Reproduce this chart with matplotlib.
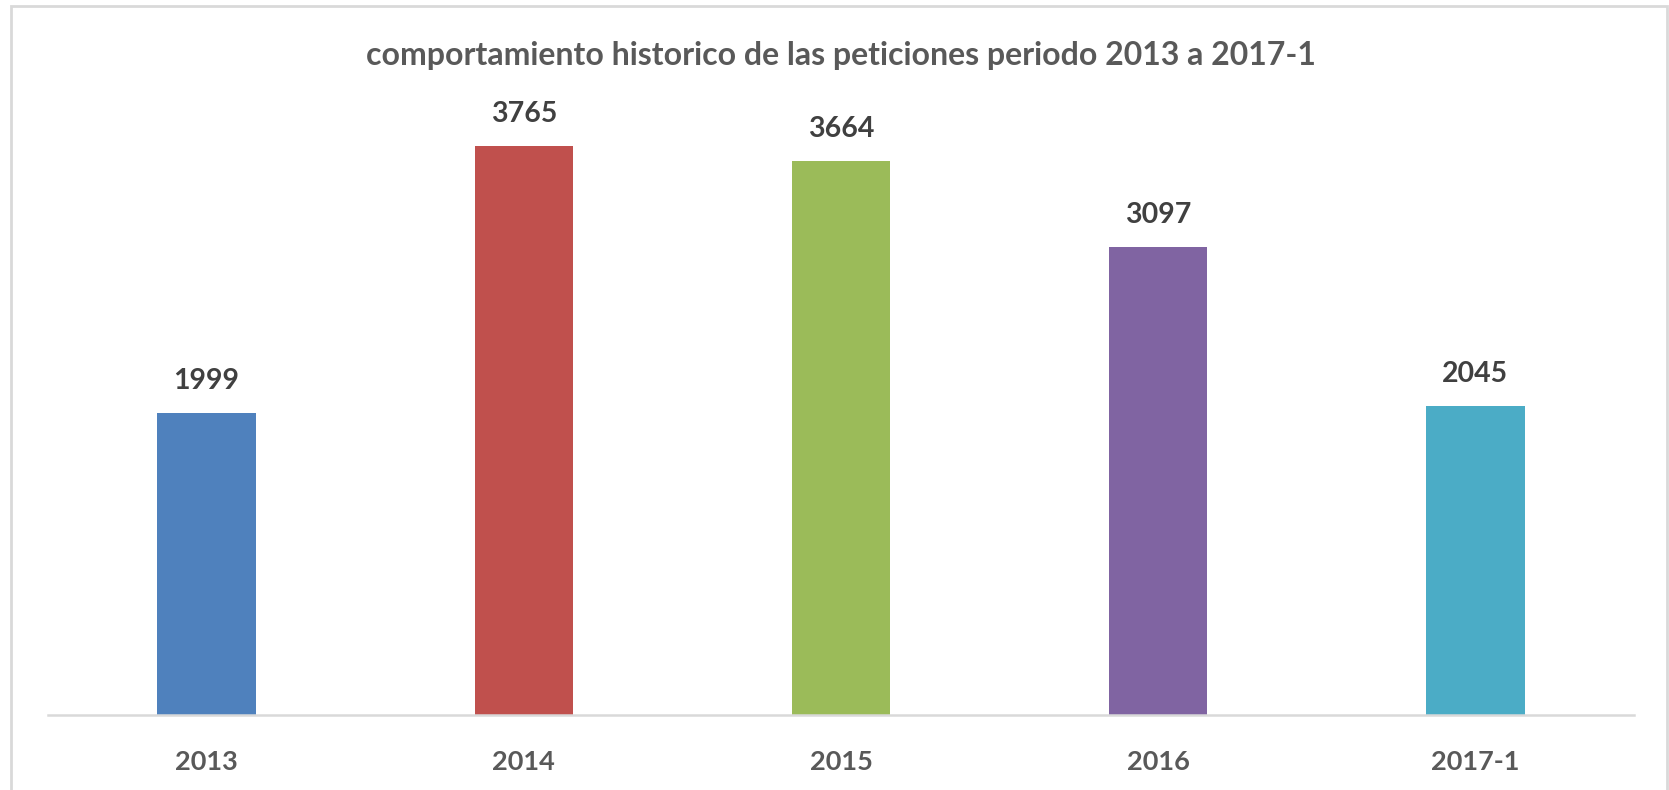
import matplotlib.pyplot as plt
from matplotlib.patches import Rectangle

categories = ["2013", "2014", "2015", "2016", "2017-1"]
values = [1999, 3765, 3664, 3097, 2045]
colors = ["#4F81BD", "#C0504D", "#9BBB59", "#8064A2", "#4BACC6"]
title = "comportamiento historico de las peticiones periodo 2013 a 2017-1"

W, H = 1669, 790
fig = plt.figure(figsize=(W / 100, H / 100), dpi=100)

# axes box in pixels: x 48..1634, baseline y=715, 4000 units -> ~605 px
left, right, base, top = 48, 1634, 715, 110
ax = fig.add_axes([left / W, (H - base) / H, (right - left) / W, (base - top) / H])

x = range(len(categories))
ax.bar(x, values, width=0.31, color=colors)
ax.set_xlim(-0.5, len(categories) - 0.5)
ax.set_ylim(0, 4000)

for i, v in enumerate(values):
    ax.annotate(str(v), (i, v), xytext=(0, 23), textcoords="offset points",
                ha="center", va="center", fontsize=20.5, fontweight="bold",
                color="#404040", family="Lato")

ax.set_xticks(list(x))
ax.set_xticklabels(categories, fontsize=19.5, fontweight="bold", color="#595959", family="Lato")
ax.tick_params(axis="x", length=0, pad=25)
ax.set_yticks([])
for s in ["top", "left", "right"]:
    ax.spines[s].set_visible(False)
ax.spines["bottom"].set_color("#D9D9D9")
ax.spines["bottom"].set_linewidth(1.8)

fig.text((left + right) / 2 / W, 1 - 55 / H, title, ha="center", va="center",
         fontsize=23, fontweight="bold", color="#595959", family="Lato")

# outer chart border
fig.patches.append(Rectangle((11 / W, -0.05), (1667 - 11) / W, 1.05 - 6 / H,
                             transform=fig.transFigure, fill=False,
                             edgecolor="#D9D9D9", linewidth=2))

fig.savefig("out.png", dpi=100)
